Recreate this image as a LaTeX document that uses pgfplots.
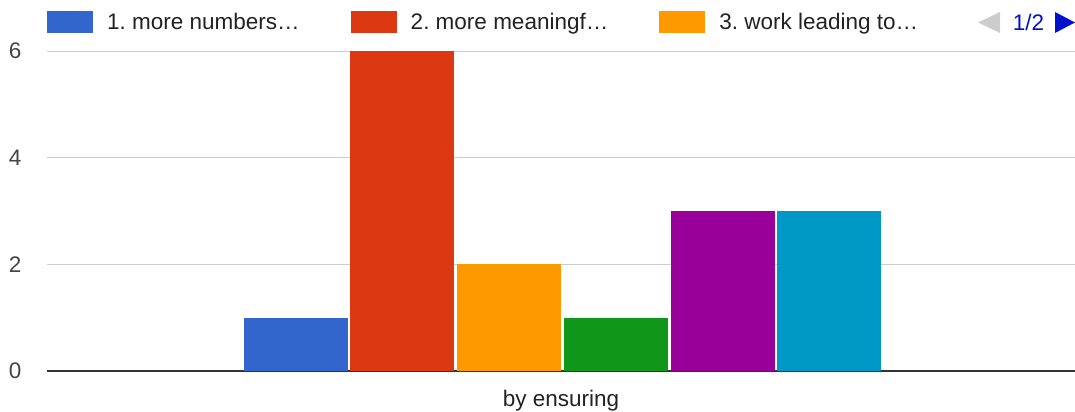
\documentclass[border=0pt]{standalone}
\usepackage{fontspec}
\setmainfont{Liberation Sans}
\usepackage{pgfplots}
\pgfplotsset{compat=1.18}
\definecolor{cblue}{HTML}{3366CC}
\definecolor{cred}{HTML}{DC3912}
\definecolor{corange}{HTML}{FF9900}
\definecolor{cgreen}{HTML}{109618}
\definecolor{cpurple}{HTML}{990099}
\definecolor{cteal}{HTML}{0099C6}
\definecolor{c333}{HTML}{333333}
\definecolor{c444}{HTML}{444444}
\definecolor{c222}{HTML}{222222}
\definecolor{cgrid}{HTML}{CCCCCC}
\definecolor{cpager}{HTML}{0011CC}
\frenchspacing
\begin{document}
\frenchspacing
\begin{tikzpicture}
\useasboundingbox (0,0) rectangle (1075bp,412bp);
\pgfplotsset{mybar/.style={ybar, bar width=104, bar shift=0pt, draw=none,
  legend image code/.code={\fill[##1] (0bp,-11bp) rectangle (46bp,11bp);}}}
\begin{axis}[
  at={(47bp,41bp)}, anchor=south west,
  scale only axis, width=1028bp, height=320bp,
  xmin=-514, xmax=514, ymin=0, ymax=6,
  ytick={2,4,6}, extra y ticks={0},
  extra y tick style={grid style={c333, line width=2bp}},
  ymajorgrids, grid style={cgrid, line width=1bp},
  axis line style={draw=none},
  major tick length=0pt,
  xtick={0}, xticklabels={by ensuring},
  /pgf/number format/assume math mode=true,
  tick label style={font=\fontsize{22.5bp}{27bp}\selectfont},
  yticklabel style={text=c444, xshift=-22bp},
  xticklabel style={text=c222, yshift=-16bp},
  legend columns=3,
  legend style={draw=none, fill=none, at={(0,1)}, anchor=west, yshift=29bp,
    font=\fontsize{22.5bp}{27bp}\selectfont\frenchspacing, text=c222, inner sep=0pt,
    /tikz/every odd column/.append style={column sep=12bp},
    /tikz/every even column/.append style={column sep=49bp}},
  legend cell align=left,
]
\addplot[mybar, fill=cblue]   coordinates {(-264.5,1)};
\addplot[mybar, fill=cred]    coordinates {(-158.5,6)};
\addplot[mybar, fill=corange] coordinates {(-52,2)};
\addplot[mybar, fill=cgreen]  coordinates {(55,1)};
\addplot[mybar, fill=cpurple] coordinates {(162,3)};
\addplot[mybar, fill=cteal]   coordinates {(268,3)};
\legend{1. more numbers…, 2. more meaningf…, 3. work leading to…}
\end{axis}
\fill[cgrid] (1000bp,400bp) -- (1000bp,379bp) -- (978bp,389.5bp) -- cycle;
\node[text=cpager, font=\fontsize{22.5bp}{27bp}\selectfont, inner sep=0pt] at (1028.5bp,389.5bp) {1/2};
\fill[cpager] (1055bp,400bp) -- (1055bp,379bp) -- (1075bp,389.5bp) -- cycle;
\end{tikzpicture}
\end{document}
